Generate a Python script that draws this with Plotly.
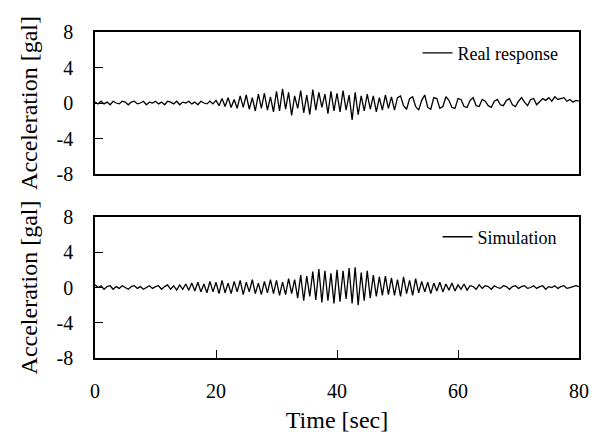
import plotly.graph_objects as go
from plotly.subplots import make_subplots

# time axis, 0.5 s steps
dt = 0.5
time = [i * dt for i in range(161)]

real_response = [
    0.1, -0.1, 0.2, -0.1, 0.1, -0.2, 0.2, 0.0, -0.1, 0.2, 0.1, -0.2, 0.1, 0.2, -0.1, 0.0, 0.2, -0.2, 0.1, 0.0,
    0.2, -0.1, 0.1, -0.2, 0.2, 0.1, -0.1, 0.2, -0.2, 0.1, 0.0, 0.2, -0.1, 0.1, -0.2, 0.2, 0.0, -0.1, 0.2, -0.1,
    0.3, -0.3, 0.5, -0.4, 0.6, -0.5, 0.4, -0.6, 0.8, -0.5, 0.9, -0.7, 0.6, -0.9, 1.0, -0.6, 1.1, -0.8, 0.7, -1.0,
    1.3, -0.9, 1.6, -0.7, 1.2, -1.4, 0.8, -0.6, 1.4, -1.1, 0.9, -1.3, 1.5, -0.8, 1.2, -0.5, 1.0, -1.2, 1.3, -0.9,
    1.1, -1.0, 1.4, -0.8, 0.9, -1.9, 1.2, -1.3, 0.8, -0.9, 1.0, -0.7, 0.8, -1.0, 0.6, -0.8, 0.9, -0.6, 0.7, -0.8,
    0.6, 0.8, -0.3, -0.7, 0.5, 0.7, -0.4, -0.8, 0.3, 0.9, -0.5, -0.7, 0.6, 0.5, -0.6, -0.4, 0.7, 0.3, -0.5, -0.6,
    0.5, 0.4, -0.4, -0.5, 0.3, 0.6, -0.3, -0.4, 0.4, 0.2, -0.3, -0.5, 0.2, 0.4, -0.2, -0.3, 0.3, 0.5, -0.2, -0.4,
    0.2, 0.6, 0.1, -0.3, 0.4, 0.5, -0.2, 0.1, 0.5, 0.3, 0.6, 0.2, 0.7, 0.4, 0.5, 0.6, 0.2, 0.4, 0.1, 0.3, 0.2,
]

# simulated response [gal]
simulation = [
    0.3, 0.0, 0.2, -0.2, 0.1, 0.2, -0.2, 0.1, -0.1, 0.2, 0.0, -0.2, 0.1, 0.2, -0.1, 0.1, -0.2, 0.0, 0.2, -0.1,
    0.1, 0.2, -0.2, 0.1, 0.3, -0.2, 0.2, -0.3, 0.3, -0.2, 0.4, -0.3, 0.5, -0.4, 0.6, -0.5, 0.4, -0.6, 0.7, -0.5,
    0.6, -0.7, 0.8, -0.6, 0.5, -0.7, 0.7, -0.5, 0.8, -0.8, 0.6, -0.5, 0.9, -0.7, 0.5, -0.8, 0.7, -0.6, 0.9, -0.7,
    0.8, -0.9, 0.6, -0.8, 1.0, -0.7, 0.9, -1.2, 1.4, -1.5, 1.3, -1.0, 1.8, -1.4, 2.1, -1.7, 1.9, -1.5, 1.6, -1.8,
    2.0, -1.6, 1.9, -1.3, 2.2, -1.8, 2.3, -2.0, 1.7, -1.5, 1.9, -1.2, 1.4, -1.0, 1.2, -0.9, 1.3, -0.8, 1.1, -0.9,
    0.9, -1.0, 1.2, -0.7, 0.8, -0.9, 1.0, -0.6, 0.7, -0.5, 0.6, -0.7, 0.5, -0.4, 0.6, -0.5, 0.4, -0.3, 0.5, -0.4,
    0.3, -0.2, 0.4, -0.3, 0.2, 0.1, -0.2, 0.3, -0.1, 0.2, 0.1, -0.2, 0.2, 0.0, -0.1, 0.2, 0.1, -0.2, 0.1, 0.2,
    -0.1, 0.1, 0.2, -0.1, 0.0, 0.2, -0.1, 0.1, 0.2, -0.2, 0.1, 0.0, 0.2, -0.1, 0.1, 0.2, -0.1, 0.0, 0.1, 0.2, 0.1,
]

x_ticks = [0, 20, 40, 60, 80]
y_ticks = [-8, -4, 0, 4, 8]
y_labels = ["-8", "-4", "0", "4", "8"]

FONT = "Liberation Serif, Times New Roman, serif"

fig = make_subplots(rows=2, cols=1, vertical_spacing=0.13)

fig.add_trace(go.Scatter(x=time, y=real_response, mode="lines", name="Real response",
                         line=dict(color="black", width=1.3), legend="legend"), row=1, col=1)
fig.add_trace(go.Scatter(x=time, y=simulation, mode="lines", name="Simulation",
                         line=dict(color="black", width=1.3), legend="legend2"), row=2, col=1)

# page body has an 8 px margin, so the margins are trimmed by that much
fig.update_layout(
    width=603, height=441,
    margin=dict(l=87, r=32, t=24, b=91),
    plot_bgcolor="white", paper_bgcolor="white",
    showlegend=True,
    font=dict(family=FONT, size=20, color="black"),
    legend=dict(x=0.968, y=0.935, xanchor="right", yanchor="middle",
                bgcolor="rgba(0,0,0,0)", font=dict(size=18)),
    legend2=dict(x=0.966, y=0.371, xanchor="right", yanchor="middle",
                 bgcolor="rgba(0,0,0,0)", font=dict(size=18)),
)

fig.update_xaxes(range=[0, 80], tickvals=x_ticks, showline=True, linecolor="black", linewidth=1.5,
                 mirror=True, showgrid=False, zeroline=False, automargin=False)
fig.update_xaxes(showticklabels=False, ticks="", row=1, col=1)
fig.update_xaxes(ticks="inside", ticklen=8, tickcolor="black", ticklabelstandoff=14,
                 title=dict(text="Time [sec]", standoff=10), row=2, col=1)

fig.update_yaxes(range=[-8, 8], tickvals=y_ticks, ticktext=y_labels, showline=True,
                 linecolor="black", linewidth=1.5, mirror=True, showgrid=False, zeroline=False,
                 ticks="inside", ticklen=8, tickcolor="black", ticklabelstandoff=16,
                 automargin=False,
                 title=dict(text="Acceleration [gal]", standoff=12, font=dict(size=24)))
fig.update_yaxes(domain=[0.5644, 1], row=1, col=1)
fig.update_yaxes(domain=[0, 0.4325], row=2, col=1)

fig.write_html("out.html")
